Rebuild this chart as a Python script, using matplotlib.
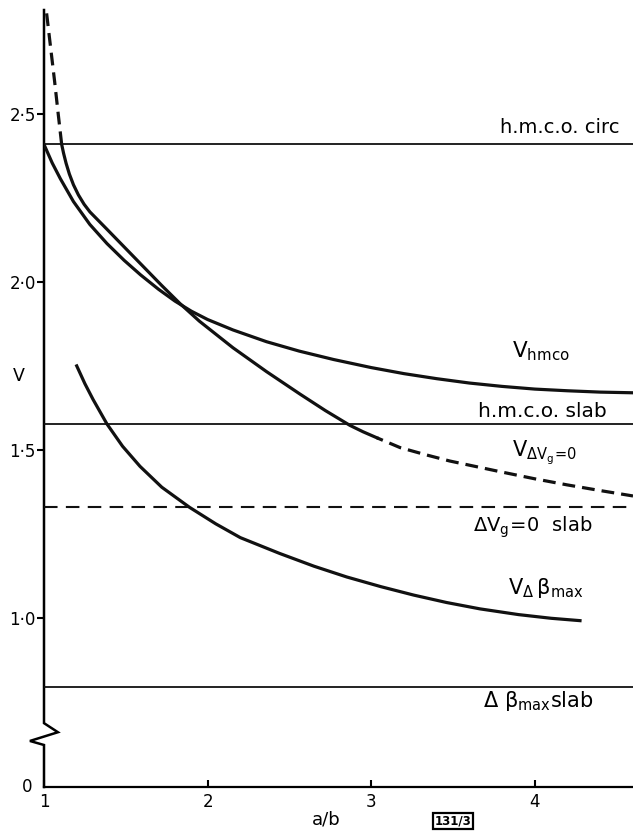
import matplotlib
matplotlib.use("Agg")
import matplotlib.pyplot as plt

plt.rcParams['font.family'] = ['DejaVu Sans']
plt.rcParams['mathtext.default'] = 'regular'

# ---- data ----
x_labels = ["1", "2", "3", "4"]
x_ticks = [1, 2, 3, 4]
y_ticks = [1.0, 1.5, 2.0, 2.5]
y_tick_labels = ["1·0", "1·5", "2·0", "2·5"]

# horizontal reference levels
hmco_circ = 2.41
hmco_slab = 1.577
dvg0_slab = 1.331
dbeta_slab = 0.795

# V_hmco curve
hmco_x = [1.00, 1.05, 1.10, 1.18, 1.28, 1.385, 1.49, 1.59, 1.70, 1.80, 1.90, 2.00,
          2.155, 2.36, 2.56, 2.77, 3.00, 3.20, 3.40, 3.60, 3.80, 4.00, 4.20, 4.40, 4.60]
hmco_y = [2.41, 2.355, 2.308, 2.24, 2.172, 2.115, 2.065, 2.022, 1.979, 1.944, 1.914, 1.889,
          1.858, 1.823, 1.795, 1.770, 1.746, 1.728, 1.713, 1.700, 1.690, 1.682, 1.677, 1.673, 1.671]

# V_{dVg=0} curve: dashed top part, solid middle, dashed tail
dvg_top_x = [1.016, 1.04, 1.065, 1.087, 1.108]
dvg_top_y = [2.80, 2.70, 2.597, 2.50, 2.41]
dvg_mid_x = [1.108, 1.12, 1.135, 1.155, 1.18, 1.21, 1.245, 1.281, 1.38, 1.48, 1.60, 1.72,
             1.83, 1.95, 2.155, 2.36, 2.565, 2.72, 2.87, 2.95, 3.035]
dvg_mid_y = [2.41, 2.383, 2.354, 2.322, 2.290, 2.260, 2.232, 2.209, 2.160, 2.110, 2.050, 1.990,
             1.937, 1.884, 1.805, 1.734, 1.667, 1.618, 1.574, 1.555, 1.537]
dvg_tail_x = [3.035, 3.176, 3.33, 3.48, 3.79, 4.00, 4.197, 4.40, 4.60]
dvg_tail_y = [1.537, 1.508, 1.487, 1.468, 1.436, 1.415, 1.397, 1.380, 1.364]

# V_{d beta max} curve
dbeta_x = [1.20, 1.25, 1.30, 1.385, 1.48, 1.587, 1.72, 1.89, 2.05, 2.20, 2.44, 2.65,
           2.85, 3.06, 3.26, 3.46, 3.665, 3.90, 4.10, 4.276]
dbeta_y = [1.751, 1.698, 1.651, 1.578, 1.512, 1.452, 1.390, 1.330, 1.281, 1.240, 1.193, 1.155,
           1.123, 1.094, 1.069, 1.047, 1.028, 1.011, 1.000, 0.993]

# ---- figure ----
W, H = 633, 832
fig = plt.figure(figsize=(W / 100, H / 100), dpi=100)
ax = fig.add_axes([44 / W, (H - 787) / H, 1 - 44 / W, (787 - 10) / H])
ax.set_xlim(1, 4.6)
ylo, yhi = 0.498, 2.81
ax.set_ylim(ylo, yhi)

for s in ['top', 'right', 'left']:
    ax.spines[s].set_visible(False)
ax.spines['bottom'].set_linewidth(1.6)

# left spine with a break
brk_top, brk_bot = 0.688, 0.623
ax.plot([1, 1, 1.085, 0.914, 1, 1],
        [yhi, brk_top, 0.661, 0.635, brk_bot, ylo],
        color='black', lw=1.8, clip_on=False, solid_joinstyle='miter')

lc = '#111111'
# horizontal levels
ax.axhline(hmco_circ, color=lc, lw=1.3)
ax.axhline(hmco_slab, color=lc, lw=1.3)
ax.axhline(dvg0_slab, color=lc, lw=1.5, linestyle=(0, (6.5, 4)))
ax.axhline(dbeta_slab, color=lc, lw=1.3)

# curves
ckw = dict(color=lc, lw=2.3, solid_joinstyle='round', dash_joinstyle='round')
ax.plot(hmco_x, hmco_y, **ckw)
ax.plot(dvg_top_x, dvg_top_y, linestyle=(0, (4, 2.2)), clip_on=False, **ckw)
ax.plot(dvg_mid_x, dvg_mid_y, **ckw)
ax.plot(dvg_tail_x, dvg_tail_y, linestyle=(2, (4, 2.2)), **ckw)
ax.plot(dbeta_x, dbeta_y, **ckw)

# ticks
ax.set_xticks(x_ticks)
ax.set_xticklabels(x_labels)
ax.set_yticks(y_ticks)
ax.set_yticklabels(y_tick_labels)
ax.tick_params(axis='x', direction='in', length=5, width=1.5, labelsize=12, pad=4)
ax.tick_params(axis='y', direction='out', length=5, width=1.5, labelsize=12, pad=1)

# "0" at the bottom of the broken axis
ax.text(0.93, ylo, "0", ha='right', va='center', fontsize=12)

# axis labels
fig.text(19 / W, 1 - 376 / H, "V", ha='center', va='center', fontsize=12.5)
fig.text(326 / W, 1 - 820 / H, "a/b", ha='center', va='center', fontsize=13)
fig.text(453 / W, 1 - 821 / H, "131/3", ha='center', va='center', fontsize=8.5,
         fontweight='bold',
         bbox=dict(boxstyle='square,pad=0.12', facecolor='white', edgecolor='black', lw=1.6))

# curve/line labels
fs = 14
ax.text(3.787, 2.461, "h.m.c.o. circ", ha='left', va='center', fontsize=fs)
ax.text(3.86, 1.796, r"$V_{hmco}$", ha='left', va='center', fontsize=15.5)
ax.text(3.653, 1.615, "h.m.c.o. slab", ha='left', va='center', fontsize=fs + 0.5)
ax.text(3.86, 1.493, r"$V_{\Delta V_g\!=\!0}$", ha='left', va='center', fontsize=15)
ax.text(3.622, 1.270, r"$\Delta V_g\!=\!0$  slab", ha='left', va='center', fontsize=fs)
ax.text(3.836, 1.089, r"$V_{\Delta}\,\beta_{max}$", ha='left', va='center', fontsize=15)
ax.text(3.683, 0.753, r"$\Delta\ \beta_{max}$slab", ha='left', va='center', fontsize=15)

fig.savefig("out.png", dpi=100)
